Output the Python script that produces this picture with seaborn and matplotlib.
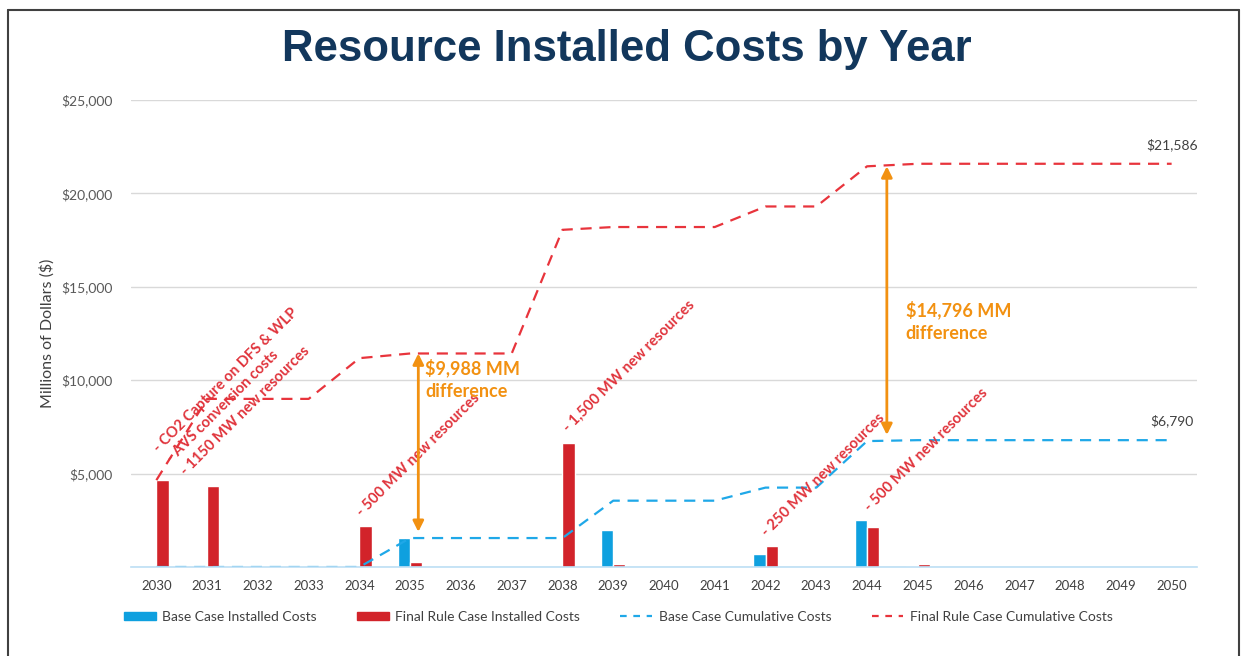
import numpy as np
import pandas as pd
import matplotlib
matplotlib.use('Agg')
import matplotlib.pyplot as plt
from matplotlib.patches import Patch
from matplotlib.lines import Line2D
from matplotlib.ticker import FuncFormatter
import seaborn as sns

# values (millions of dollars)
years = [str(y) for y in range(2030, 2051)]
base_installed = [0, 0, 0, 0, 0, 1550, 0, 0, 0, 2000, 0,
                  0, 700, 0, 2490, 50, 0, 0, 0, 0, 0]
final_installed = [4650, 4350, 0, 0, 2180, 250, 0, 0, 6620, 150, 0,
                   0, 1100, 0, 2150, 136, 0, 0, 0, 0, 0]
base_label = 'Base Case Installed Costs'
final_label = 'Final Rule Case Installed Costs'
base_cum_label = 'Base Case Cumulative Costs'
final_cum_label = 'Final Rule Case Cumulative Costs'

base_cum = np.cumsum(base_installed)
final_cum = np.cumsum(final_installed)

BLUE = '#0EA0DF'
RED = '#D2232A'
BLUE_LINE = '#1FA8E8'
RED_LINE = '#E8343C'
ORANGE = '#F29111'
NOTE_RED = '#E0343C'
NAVY = '#12375C'

sns.set_theme(style='white')
plt.rcParams['font.family'] = ['Lato', 'DejaVu Sans']

fig = plt.figure(figsize=(12.44, 6.56), dpi=100)
ax = fig.add_axes([131 / 1244, 1 - 567 / 656, (1197 - 131) / 1244, (567 - 100) / 656])

df = pd.DataFrame({
    'year': years * 2,
    'cost': base_installed + final_installed,
    'series': [base_label] * len(years) + [final_label] * len(years),
})
sns.barplot(data=df, x='year', y='cost', hue='series', width=0.48,
            palette=[BLUE, RED], saturation=1, legend=False, ax=ax)

idx = np.arange(len(years))
sns.lineplot(x=idx, y=base_cum, color=BLUE_LINE, lw=1.6, dashes=False, ax=ax,
             linestyle=(0, (5, 3.5)))
sns.lineplot(x=idx, y=final_cum, color=RED_LINE, lw=1.6, dashes=False, ax=ax,
             linestyle=(0, (5, 3.5)))

ax.set_xlim(-0.5, len(years) - 0.5)
ax.set_ylim(0, 25000)
ax.set_yticks(range(0, 25001, 5000))
ax.yaxis.set_major_formatter(FuncFormatter(lambda v, p: '' if v == 0 else f'${v:,.0f}'))
ax.grid(axis='y', color='#D9D9D9', lw=1)
ax.set_axisbelow(True)
for s in ['left', 'right', 'top']:
    ax.spines[s].set_visible(False)
ax.spines['bottom'].set_color('#BDDFF5')
ax.spines['bottom'].set_linewidth(1.2)
ax.tick_params(axis='y', length=0, pad=13, labelsize=10, labelcolor='#595959')
ax.tick_params(axis='x', length=0, pad=9, labelsize=9.5, labelcolor='#404040')
ax.set_xlabel('')
ax.set_ylabel('Millions of Dollars ($)', fontsize=11.5, color='#404040', labelpad=5)

# end labels
ax.text(idx[-1], final_cum[-1] + 700, f'${final_cum[-1]:,.0f}', ha='center', va='bottom',
        fontsize=10, color='#404040')
ax.text(idx[-1], base_cum[-1] + 700, f'${base_cum[-1]:,.0f}', ha='center', va='bottom',
        fontsize=10, color='#404040')

# rotated notes
notes = [
    ('- CO2 Capture on DFS & WLP', 0.04, 6100),
    ('- AVS conversion costs', 0.31, 5560),
    ('- 1150 MW new resources', 0.59, 4870),
    ('- 500 MW new resources', 4.06, 2675),
    ('- 1,500 MW new resources', 8.11, 7220),
    ('- 250 MW new resources', 12.03, 1600),
    ('- 500 MW new resources', 14.06, 2940),
]
for txt, x, y in notes:
    ax.text(x, y, txt, rotation=45, rotation_mode='anchor', ha='left', va='baseline',
            fontsize=10.6, fontweight='bold', color=NOTE_RED)

# difference arrows
for x, i, txt, tx, ty in [(5.16, 5, '$9,988 MM\ndifference', 5.3, 11180),
                          (14.39, 14, '$14,796 MM\ndifference', 14.76, 14280)]:
    ax.annotate('', xy=(x, final_cum[i]), xytext=(x, base_cum[i] + 330),
                arrowprops=dict(arrowstyle='<|-|>', color=ORANGE, lw=2,
                                mutation_scale=16, shrinkA=0, shrinkB=0))
    ax.text(tx, ty, txt, ha='left', va='top', fontsize=13, fontweight='bold',
            color=ORANGE, linespacing=1.45)

fig.text(0.504, 0.925, 'Resource Installed Costs by Year', ha='center', va='center',
         fontsize=31.5, fontweight='bold', color=NAVY, family='Liberation Sans')

handles = [
    Patch(color=BLUE, label=base_label),
    Patch(color=RED, label=final_label),
    Line2D([], [], color=BLUE_LINE, lw=1.6, linestyle=(0, (3, 3)), label=base_cum_label),
    Line2D([], [], color=RED_LINE, lw=1.6, linestyle=(0, (3, 3)), label=final_cum_label),
]
fig.legend(handles=handles, loc='center', bbox_to_anchor=(0.497, 0.0595), ncol=4,
           frameon=False, fontsize=10, handlelength=2.3, handleheight=0.55,
           handletextpad=0.45, columnspacing=2.9, labelcolor='#404040')

# frame around the slide
for xs, ys in [([8, 8], [10, 656]), ([8, 1239], [10, 10]), ([1239, 1239], [10, 656])]:
    fig.add_artist(Line2D([v / 1244 for v in xs], [1 - v / 656 for v in ys],
                          color='#404040', lw=1.5))

fig.savefig('out.png', dpi=100, facecolor='white')
